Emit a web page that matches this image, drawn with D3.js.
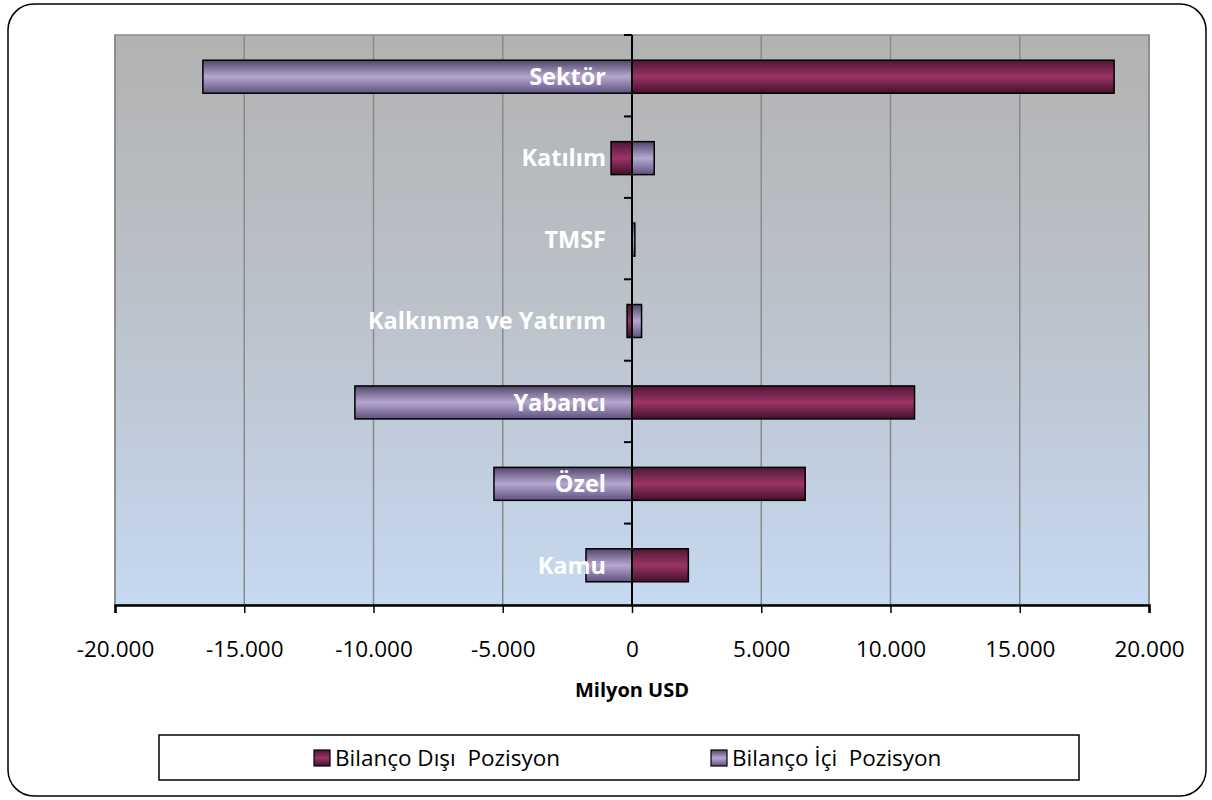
<!DOCTYPE html>
<html>
<head>
<meta charset="utf-8">
<script src="https://cdn.jsdelivr.net/npm/d3@7"></script>
<style>
html,body{margin:0;padding:0;background:#fff;}
svg{display:block;}
text{font-family:"Open Sans","Lato",sans-serif;}
</style>
</head>
<body>
<svg id="chart" width="1212" height="800"></svg>
<script>
const categories = ["Sektör","Katılım","TMSF","Kalkınma ve Yatırım","Yabancı","Özel","Kamu"];
const bilancoDisi = [18650, -810, 0, -190, 10930, 6700, 2180];
const bilancoIci = [-16600, 860, 110, 370, -10720, -5340, -1780];
const xTicks = [-20000,-15000,-10000,-5000,0,5000,10000,15000,20000];
const seriesNames = ["Bilanço Dışı  Pozisyon","Bilanço İçi  Pozisyon"];
const axisTitle = "Milyon USD";

const svg = d3.select("#chart");
const defs = svg.append("defs");

const plot = {left:115, right:1149, top:35, bottom:605};

const bg = defs.append("linearGradient").attr("id","bg").attr("x1",0).attr("y1",0).attr("x2",0).attr("y2",1);
bg.append("stop").attr("offset","0%").attr("stop-color","#b2b2b2");
bg.append("stop").attr("offset","50%").attr("stop-color","#bcc3cc");
bg.append("stop").attr("offset","100%").attr("stop-color","#c6d9f1");

function barGrad(id, dark1, light, dark2){
  const g = defs.append("linearGradient").attr("id",id).attr("x1",0).attr("y1",0).attr("x2",0).attr("y2",1);
  g.append("stop").attr("offset","0%").attr("stop-color",dark1);
  g.append("stop").attr("offset","50%").attr("stop-color",light);
  g.append("stop").attr("offset","100%").attr("stop-color",dark2);
}
barGrad("gDisi","#4f1833","#9b3467","#45102b");
barGrad("gIci","#514669","#b6a7d0","#5f5180");

svg.append("rect").attr("x",8).attr("y",4).attr("width",1198).attr("height",792)
  .attr("rx",26).attr("ry",26).attr("fill","#fff").attr("stroke","#000").attr("stroke-width",1.5);

const x = d3.scaleLinear().domain([-20000,20000]).range([plot.left, plot.right]);
const y = d3.scaleBand().domain(categories).range([plot.top, plot.bottom]).paddingInner(0.595).paddingOuter(0.2975);
const yStep = d3.scaleBand().domain(categories).range([plot.top, plot.bottom]).padding(0);

svg.append("rect").attr("x",plot.left).attr("y",plot.top).attr("width",plot.right-plot.left).attr("height",plot.bottom-plot.top)
  .attr("fill","url(#bg)").attr("stroke","#8c8c8c").attr("stroke-width",1.5);

svg.append("g").selectAll("line").data(xTicks.filter(d=>d!==0)).join("line")
  .attr("x1",d=>x(d)).attr("x2",d=>x(d)).attr("y1",plot.top).attr("y2",plot.bottom)
  .attr("stroke","#8a8a8a").attr("stroke-width",1.5);

const rows = categories.map((c,i)=>({c, disi:bilancoDisi[i], ici:bilancoIci[i]}));
function drawSeries(key, fill){
  svg.append("g").selectAll("rect").data(rows.filter(r=>r[key]!==0)).join("rect")
    .attr("x",d=>x(Math.min(0,d[key])))
    .attr("width",d=>Math.abs(x(d[key])-x(0)))
    .attr("y",d=>y(d.c)+1).attr("height",y.bandwidth())
    .attr("fill",fill).attr("stroke","#000").attr("stroke-width",1.5);
}
drawSeries("disi","url(#gDisi)");
drawSeries("ici","url(#gIci)");

const x0 = x(0);
svg.append("line").attr("x1",x0).attr("x2",x0).attr("y1",plot.top).attr("y2",plot.bottom)
  .attr("stroke","#000").attr("stroke-width",2);
const boundaries = categories.map(c=>yStep(c));
svg.append("g").selectAll("line").data(boundaries).join("line")
  .attr("x1",x0-8).attr("x2",x0).attr("y1",d=>d).attr("y2",d=>d)
  .attr("stroke","#000").attr("stroke-width",2);

svg.append("g").selectAll("text").data(categories).join("text")
  .attr("x",x0-26).attr("y",d=>yStep(d)+yStep.bandwidth()/2+3)
  .attr("text-anchor","end").attr("dominant-baseline","middle")
  .attr("fill","#fff").attr("font-weight","bold").attr("font-size",23.5)
  .text(d=>d);

const xAxis = d3.axisBottom(x).tickValues(xTicks).tickSize(8)
  .tickFormat(d=>d3.format(",")(d).replace(/,/g,".").replace("−","-"));
const ax = svg.append("g").attr("transform",`translate(0,${plot.bottom})`).call(xAxis);
ax.select(".domain").attr("stroke","#000").attr("stroke-width",2.5);
ax.selectAll(".tick line").attr("stroke","#000").attr("stroke-width",1.5);
ax.selectAll(".tick text").attr("font-size",22.5).attr("fill","#000").attr("y",0).attr("dy",0)
  .attr("transform","translate(0,52)")
  .style("font-family","'Open Sans',sans-serif");

svg.append("text").attr("x",x0).attr("y",697).attr("text-anchor","middle")
  .attr("font-weight","bold").attr("font-size",20).text(axisTitle);

svg.append("rect").attr("x",159).attr("y",735).attr("width",920).attr("height",45)
  .attr("fill","#fff").attr("stroke","#000").attr("stroke-width",1.5);
const legX = [314, 711];
const legFill = ["url(#gDisi)","url(#gIci)"];
const lg = svg.append("g").selectAll("g").data(seriesNames).join("g")
  .attr("transform",(d,i)=>`translate(${legX[i]},750)`);
lg.append("rect").attr("width",16).attr("height",16).attr("fill",(d,i)=>legFill[i])
  .attr("stroke","#000").attr("stroke-width",1.2);
lg.append("text").attr("x",21).attr("y",16).attr("font-size",22.5)
  .style("white-space","pre").attr("xml:space","preserve").text(d=>d);
</script>
</body>
</html>
